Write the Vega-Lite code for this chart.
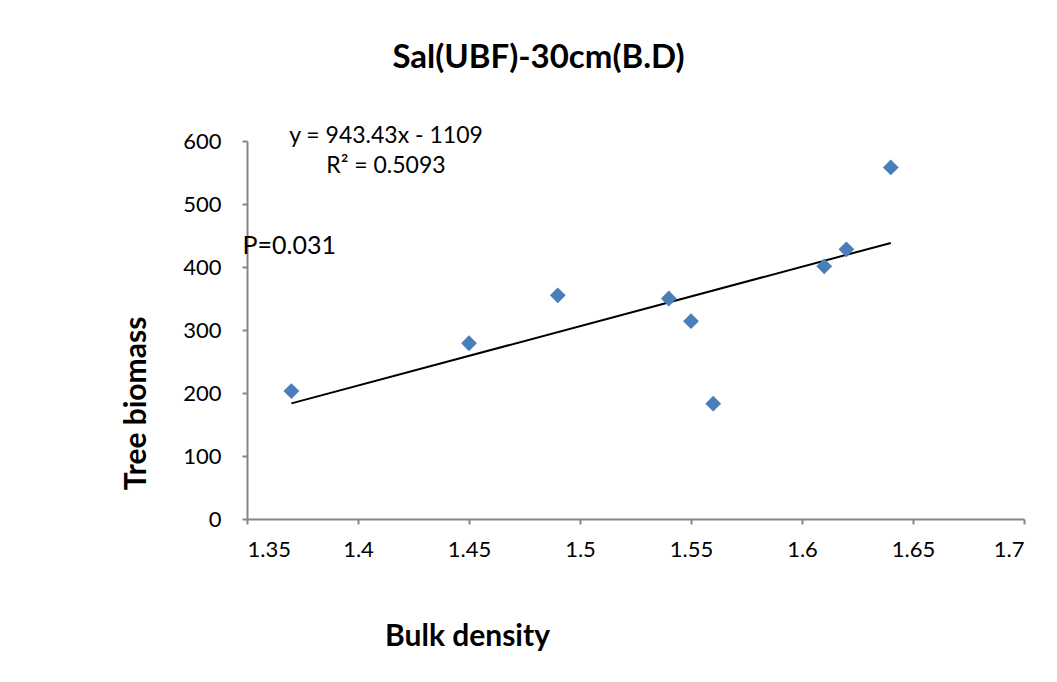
{
  "$schema": "https://vega.github.io/schema/vega-lite/v6.json",
  "width": 777,
  "height": 378,
  "autosize": {"type": "none"},
  "padding": {"left": 247, "top": 141, "right": 33, "bottom": 163},
  "background": "white",
  "config": {
    "view": {"stroke": null},
    "font": "Lato",
    "axis": {
      "grid": false,
      "domainColor": "#868686",
      "tickColor": "#868686",
      "domainWidth": 2,
      "tickWidth": 2,
      "tickSize": 5,
      "labelFont": "Lato",
      "labelFontSize": 22,
      "labelColor": "#000000",
      "titleFont": "Lato",
      "titleFontSize": 30,
      "titleFontWeight": "bold",
      "titleColor": "#000000"
    }
  },
  "title": {
    "text": "Sal(UBF)-30cm(B.D)",
    "font": "Lato",
    "fontSize": 33,
    "fontWeight": "bold",
    "color": "#000000",
    "anchor": "middle",
    "dx": -97,
    "offset": 50
  },
  "datasets": {
    "points": [
      {"bd": 1.37, "biomass": 203},
      {"bd": 1.45, "biomass": 279},
      {"bd": 1.49, "biomass": 355},
      {"bd": 1.54, "biomass": 350},
      {"bd": 1.55, "biomass": 314},
      {"bd": 1.56, "biomass": 183},
      {"bd": 1.61, "biomass": 401},
      {"bd": 1.62, "biomass": 428},
      {"bd": 1.64, "biomass": 558}
    ],
    "trend": [
      {"bd": 1.37, "biomass": 183.5},
      {"bd": 1.64, "biomass": 438.2}
    ],
    "notes": [
      {"bd": 1.4126, "biomass": 608, "label": "y = 943.43x - 1109"},
      {"bd": 1.4126, "biomass": 560, "label": "R² = 0.5093"}
    ],
    "pnote": [
      {"bd": 1.348, "biomass": 433, "label": "P=0.031"}
    ]
  },
  "layer": [
    {
      "data": {"name": "trend"},
      "mark": {"type": "line", "color": "#000000", "strokeWidth": 2},
      "encoding": {
        "x": {
          "field": "bd", "type": "quantitative",
          "scale": {"domain": [1.35, 1.7], "zero": false, "nice": false},
          "axis": {
            "title": "Bulk density",
            "values": [1.35, 1.4, 1.45, 1.5, 1.55, 1.6, 1.65, 1.7],
            "format": ".2~f",
            "labelPadding": 15,
            "titleX": 220,
            "titleY": 117,
            "titleBaseline": "middle"
          }
        },
        "y": {
          "field": "biomass", "type": "quantitative",
          "scale": {"domain": [0, 600], "nice": false},
          "axis": {
            "title": "Tree biomass",
            "values": [0, 100, 200, 300, 400, 500, 600],
            "labelPadding": 21,
            "titleX": -111,
            "titleY": 262,
            "titleBaseline": "middle",
            "titleAngle": -90
          }
        }
      }
    },
    {
      "data": {"name": "points"},
      "mark": {"type": "point", "shape": "diamond", "filled": true, "size": 250, "color": "#4A7EBB", "opacity": 1},
      "encoding": {
        "x": {"field": "bd", "type": "quantitative"},
        "y": {"field": "biomass", "type": "quantitative"}
      }
    },
    {
      "data": {"name": "notes"},
      "mark": {"type": "text", "fontSize": 23, "align": "center", "baseline": "middle", "color": "#000000", "font": "Lato"},
      "encoding": {
        "x": {"field": "bd", "type": "quantitative"},
        "y": {"field": "biomass", "type": "quantitative"},
        "text": {"field": "label"}
      }
    },
    {
      "data": {"name": "pnote"},
      "mark": {"type": "text", "fontSize": 25, "align": "left", "baseline": "middle", "color": "#000000", "font": "Lato"},
      "encoding": {
        "x": {"field": "bd", "type": "quantitative"},
        "y": {"field": "biomass", "type": "quantitative"},
        "text": {"field": "label"}
      }
    }
  ]
}
